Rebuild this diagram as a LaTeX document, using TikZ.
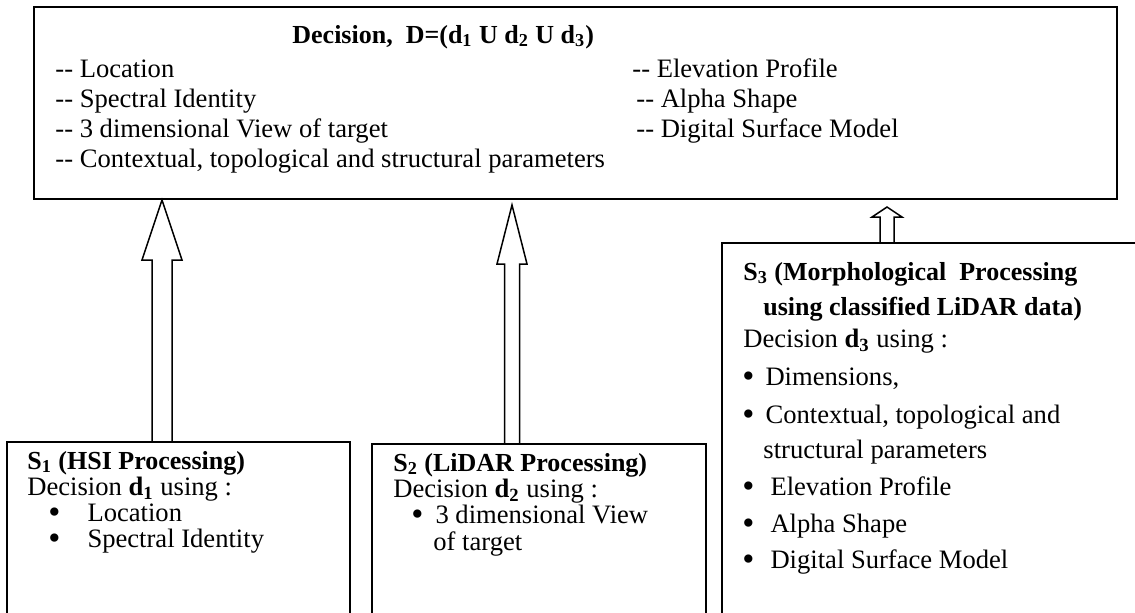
\documentclass[tikz,border=0pt]{standalone}
\usepackage{fontspec}
\setmainfont{Liberation Serif}
\usetikzlibrary{calc}

\tikzset{
  txt/.style={inner sep=0pt, anchor=base west, text height=0.68em, text depth=0.2em, font=\fontsize{13.3}{15}\selectfont},
  head/.style={txt, font=\fontsize{13}{15}\selectfont\bfseries},
  boxline/.style={line width=1pt},
  blk/.style={line width=0.75pt, line join=miter},
}

% block arrow going up: from #1 to #2, shaft half width #3, head half width #4, head length #5
\newcommand{\blockup}[5]{%
  \draw[blk] ($(#1)+(-#3,0)$) -- ($(#2)+(-#3,#5)$) -- ($(#2)+(-#4,#5)$) -- (#2)
     -- ($(#2)+(#4,#5)$) -- ($(#2)+(#3,#5)$) -- ($(#1)+(#3,0)$) -- cycle;}
\newcommand{\dsh}{-{}-\ }
\newcommand{\bul}{\smash{\raisebox{-1pt}{\scalebox{1.3}{\textbullet}}}}

\begin{document}
\begin{tikzpicture}[x=0.5pt,y=-0.5pt]

  \clip (0,0) rectangle (1135,612);

	%decision box
 \draw[boxline] (34,7) rectangle (1117,199);
 \node[head] (dtitle) at (292,43) {Decision,\ \ D=(d\textsubscript{1} U d\textsubscript{2} U d\textsubscript{3})};

    \foreach \i/\txt/\name in { 0/Location/l1, 1/Spectral Identity/l2, 2/3 dimensional View of target/l3, 3/{Contextual, topological and structural parameters}/l4 }{
           \node[txt] (\name) at (55, 77 + \i*30.3) {\dsh\txt};
    }
    \foreach \i/\dx/\txt/\name in { 0/632/Elevation Profile/r1, 1/636/Alpha Shape/r2, 2/636/Digital Surface Model/r3 }{
           \node[txt] (\name) at (\dx, 77 + \i*30.3) {\dsh\txt};
    }

	%S1
 \draw[boxline] (7,442) rectangle (350,700);
 \node[head] (s1head) at (27,469) {S\textsubscript{1} (HSI Processing)};
 \node[txt] (s1dec) at (27,495) {Decision \textbf{d\textsubscript{1}} using :};
    \foreach \i/\txt/\name in { 0/Location/s1a, 1/Spectral Identity/s1b }{
           \node[txt] (\name) at (48, 521 + \i*26.5) {\bul\hspace{13.5pt}\txt};
    }

	%S2
 \draw[boxline] (372,444) rectangle (706,700);
 \node[head] (s2head) at (393,471) {S\textsubscript{2} (LiDAR Processing)};
 \node[txt] (s2dec) at (393,497) {Decision \textbf{d\textsubscript{2}} using :};
 \node[txt] (s2a) at (411,523) {\bul\hspace{6pt}3 dimensional View};
 \node[txt] (s2b) at (433,550) {of target};

	%S3
 \draw[boxline] (722,243) rectangle (1200,700);
 \node[head] (s3head) at (743,280) {S\textsubscript{3} (Morphological\ \ Processing};
 \node[head] (s3head2) at (763,315) {using classified LiDAR data)};
 \node[txt] (s3dec) at (743,347) {Decision \textbf{d\textsubscript{3}} using :};
    \foreach \y/\gap/\txt/\name in { 385/5.5/{Dimensions,}/s3a, 423/5.5/{Contextual, topological and}/s3b, 495/8/Elevation Profile/s3c, 532/8/Alpha Shape/s3d, 568/8/Digital Surface Model/s3e }{
           \node[txt] (\name) at (742, \y) {\bul\hspace{\gap pt}\txt};
    }
 \node[txt] (s3b2) at (763,458) {structural parameters};

	%arrows
 \coordinate (a1s) at (162,442);
 \coordinate (a1e) at (162,200);
 \coordinate (a2s) at (512,444);
 \coordinate (a2e) at (512,205);
 \coordinate (a3s) at (887,243);
 \coordinate (a3e) at (887,207);
 \blockup{a1s}{a1e}{10}{20}{60}
 \blockup{a2s}{a2e}{7.5}{15}{59}
 \blockup{a3s}{a3e}{7}{15}{10}

\end{tikzpicture}
\end{document}
